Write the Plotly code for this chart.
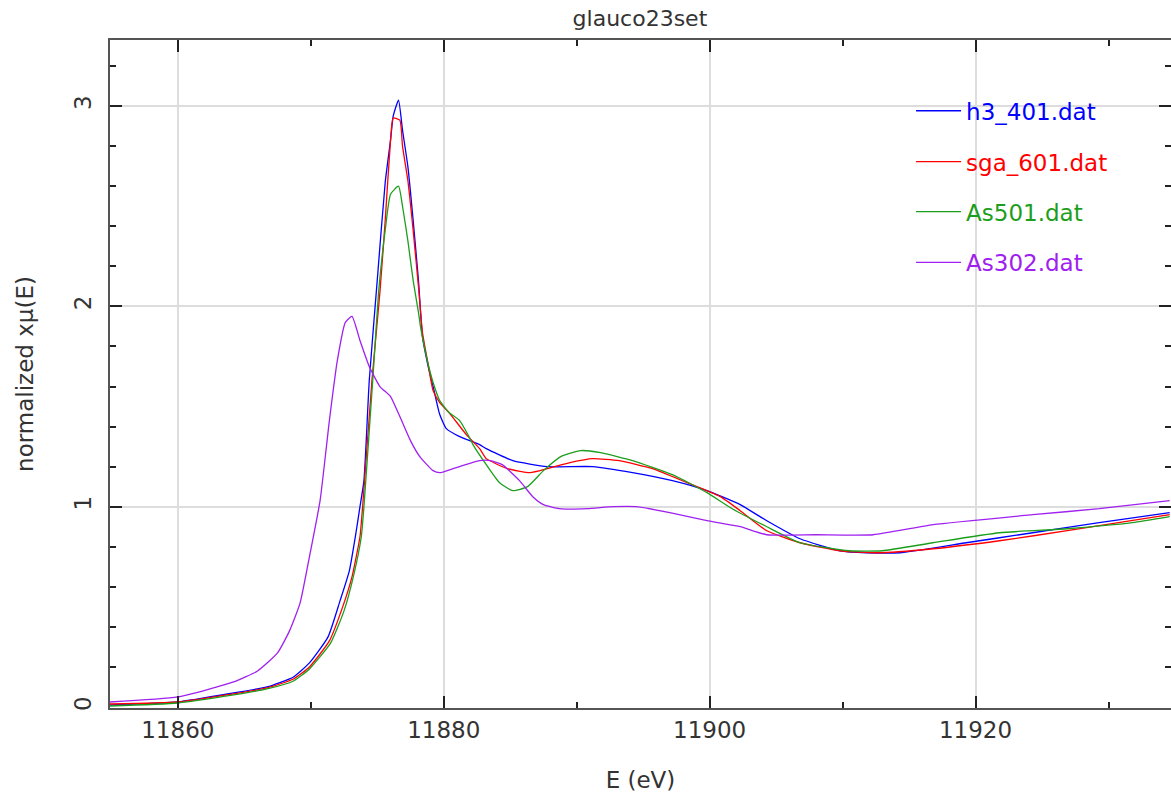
import plotly.graph_objects as go

title = "glauco23set"
x_label = "E (eV)"
y_label = "normalized xμ(E)"

names = ["h3_401.dat", "sga_601.dat", "As501.dat", "As302.dat"]
colors = ["#0000ff", "#ff0000", "#1c9e1c", "#a020f0"]

e_h3 = [11854.9, 11860.0, 11864.2, 11866.7, 11868.7, 11869.9, 11871.3, 11872.2, 11872.9, 11873.4,
        11873.7, 11874.0, 11874.4, 11875.0, 11875.6, 11876.0, 11876.2, 11876.6, 11876.9, 11877.3,
        11877.7, 11878.1, 11878.4, 11878.8, 11879.2, 11879.7, 11880.2, 11881.2, 11882.7, 11883.2,
        11885.2, 11887.8, 11891.2, 11894.2, 11897.2, 11899.8, 11902.3, 11904.3, 11906.8, 11909.8,
        11911.8, 11914.3, 11919.3, 11924.3, 11929.3, 11934.6]
mu_h3 = [0.01, 0.025, 0.07, 0.10, 0.15, 0.22, 0.35, 0.53, 0.68, 0.87,
         1.00, 1.13, 1.63, 2.13, 2.62, 2.83, 2.95, 3.03, 2.88, 2.70,
         2.43, 2.13, 1.85, 1.71, 1.60, 1.46, 1.39, 1.35, 1.31, 1.29,
         1.23, 1.20, 1.20, 1.17, 1.13, 1.08, 1.01, 0.93, 0.84, 0.78,
         0.77, 0.77, 0.82, 0.87, 0.92, 0.97]

e_sga = [11854.9, 11860.0, 11864.2, 11866.7, 11868.7, 11869.9, 11871.4, 11872.4, 11873.1, 11873.7,
         11873.9, 11874.6, 11875.2, 11875.6, 11876.0, 11876.2, 11876.7, 11876.9, 11877.3, 11877.7,
         11878.1, 11878.4, 11878.8, 11879.2, 11879.7, 11880.4, 11881.7, 11882.7, 11883.2, 11884.8,
         11886.5, 11887.8, 11889.5, 11891.2, 11893.2, 11895.7, 11898.3, 11900.8, 11902.3, 11904.3,
         11906.8, 11909.8, 11912.6, 11916.8, 11921.8, 11926.9, 11934.6]
mu_sga = [0.015, 0.025, 0.065, 0.095, 0.14, 0.20, 0.33, 0.50, 0.65, 0.85,
          1.00, 1.63, 2.07, 2.43, 2.83, 2.94, 2.93, 2.80, 2.63, 2.38,
          2.10, 1.87, 1.72, 1.58, 1.52, 1.47, 1.36, 1.29, 1.24, 1.19,
          1.17, 1.19, 1.22, 1.24, 1.23, 1.19, 1.12, 1.05, 0.98, 0.88,
          0.82, 0.78, 0.77, 0.79, 0.83, 0.88, 0.96]

e_as501 = [11854.9, 11860.0, 11864.2, 11866.7, 11868.7, 11869.9, 11871.5, 11872.5, 11873.2, 11873.8,
           11874.0, 11874.7, 11875.1, 11875.6, 11876.0, 11876.6, 11876.9, 11877.3, 11877.7, 11878.1,
           11878.3, 11878.8, 11879.2, 11879.7, 11880.4, 11881.2, 11881.9, 11882.2, 11883.2, 11884.2,
           11885.2, 11886.3, 11887.5, 11888.8, 11890.3, 11891.8, 11894.2, 11897.2, 11899.8, 11901.7,
           11904.3, 11906.8, 11910.5, 11913.0, 11916.8, 11921.8, 11926.9, 11931.8, 11934.6]
mu_as501 = [0.005, 0.02, 0.06, 0.09, 0.13, 0.19, 0.32, 0.48, 0.65, 0.85,
            1.00, 1.67, 2.07, 2.38, 2.56, 2.60, 2.50, 2.33, 2.13, 1.97,
            1.88, 1.72, 1.62, 1.53, 1.47, 1.43, 1.35, 1.31, 1.21, 1.12,
            1.08, 1.10, 1.18, 1.25, 1.28, 1.27, 1.23, 1.16, 1.07, 0.99,
            0.90, 0.82, 0.78, 0.78, 0.82, 0.87, 0.89, 0.92, 0.95]

e_as302 = [11854.9, 11860.0, 11864.2, 11866.0, 11867.5, 11868.4, 11869.2, 11869.9, 11870.7, 11871.4,
           11872.0, 11872.6, 11873.1, 11873.7, 11874.4, 11875.2, 11876.0, 11876.7, 11877.5, 11878.2,
           11879.2, 11879.7, 11880.7, 11882.7, 11883.5, 11884.4, 11885.7, 11886.7, 11887.5, 11888.7,
           11890.8, 11892.7, 11894.5, 11897.0, 11899.8, 11902.3, 11904.3, 11908.0, 11912.3, 11916.8,
           11924.3, 11929.3, 11934.6]
mu_as302 = [0.025, 0.05, 0.125, 0.18, 0.27, 0.38, 0.52, 0.75, 1.03, 1.43,
            1.73, 1.92, 1.95, 1.83, 1.70, 1.60, 1.55, 1.45, 1.33, 1.25,
            1.18, 1.17, 1.19, 1.23, 1.23, 1.21, 1.13, 1.05, 1.01, 0.99,
            0.99, 1.00, 1.00, 0.97, 0.93, 0.90, 0.86, 0.86, 0.86, 0.91,
            0.96, 0.99, 1.03]

x_ticks = [11860, 11880, 11900, 11920]
y_ticks = [0, 1, 2, 3]

series = [(e_h3, mu_h3), (e_sga, mu_sga), (e_as501, mu_as501), (e_as302, mu_as302)]
legend_ids = ["legend", "legend2", "legend3", "legend4"]
legend_y = [0.894, 0.818, 0.743, 0.667]

FONT = "DejaVu Sans"
fig = go.Figure()
for (ex, mu), name, col, lid in zip(series, names, colors, legend_ids):
    fig.add_trace(go.Scatter(x=ex, y=mu, mode="lines", name=name, legend=lid,
                             line=dict(color=col, width=1.3, shape="spline", smoothing=0.5)))

layout_legends = {}
for lid, col, ly in zip(legend_ids, colors, legend_y):
    layout_legends[lid] = dict(x=0.755, y=ly, xanchor="left", yanchor="middle",
                               bgcolor="rgba(0,0,0,0)", borderwidth=0, itemwidth=45,
                               font=dict(family=FONT, size=23, color=col))

axis_common = dict(showline=True, linecolor="#555555", linewidth=2, mirror="ticks",
                   ticks="inside", ticklen=12, tickwidth=1.5, tickcolor="#222222",
                   showgrid=True, gridcolor="#dddddd", gridwidth=1.5, zeroline=False,
                   automargin=False,
                   tickfont=dict(family=FONT, size=23, color="#333333"))

fig.update_layout(
    width=1171, height=796,
    margin=dict(l=110, r=0, t=40, b=88),
    paper_bgcolor="white", plot_bgcolor="white",
    title=dict(text=title, x=0.5465, xanchor="center", y=0.977, yanchor="middle",
               font=dict(family=FONT, size=22, color="#333333")),
    showlegend=True,
    xaxis=dict(range=[11854.9, 11934.7], tickvals=x_ticks,
               ticktext=[str(v) for v in x_ticks],
               minor=dict(dtick=10, tick0=11850, ticks="inside", ticklen=6, tickcolor="#222222", showgrid=False),
               title=dict(text=x_label, standoff=30, font=dict(family=FONT, size=23, color="#333333")),
               **axis_common),
    yaxis=dict(range=[-0.005, 3.33], tickvals=y_ticks, ticktext=[str(v) for v in y_ticks],
               tickangle=-90, ticklabelstandoff=8,
               minor=dict(dtick=0.2, tick0=0, ticks="inside", ticklen=6, tickcolor="#222222", showgrid=False),
               title=dict(text=y_label, standoff=30, font=dict(family=FONT, size=23, color="#333333")),
               **axis_common),
    **layout_legends,
)

fig.write_html("out.html", config={"displayModeBar": False},
               post_script="document.body.style.margin='0';")
